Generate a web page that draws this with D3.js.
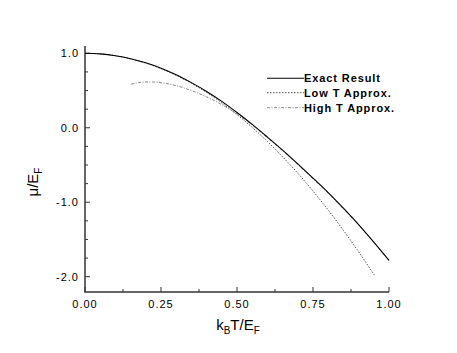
<!DOCTYPE html>
<html>
<head>
<meta charset="utf-8">
<script src="https://cdn.jsdelivr.net/npm/d3@7"></script>
<style>
  body { margin: 0; background: #fff; }
  svg text { font-family: "Liberation Sans", Arial, sans-serif; fill: #000; }
  .tick-label { font-size: 11px; letter-spacing: 1px; }
  .legend text { font-size: 11px; font-weight: bold; letter-spacing: 0.9px; }
  .title { font-size: 15px; }
</style>
</head>
<body>
<svg id="chart" width="457" height="353"></svg>
<script>
// values
var tExact = [0, 0.05, 0.1, 0.15, 0.2, 0.25, 0.3, 0.35, 0.4, 0.45, 0.5,
              0.55, 0.6, 0.65, 0.7, 0.75, 0.8, 0.85, 0.9, 0.95, 1.0];
var muExact = [1.0, 0.992, 0.968, 0.928, 0.872, 0.80, 0.712, 0.606, 0.488, 0.355, 0.205,
               0.045, -0.125, -0.30, -0.485, -0.675, -0.87, -1.08, -1.30, -1.535, -1.78];

var tLow = [0, 0.05, 0.1, 0.15, 0.2, 0.25, 0.3, 0.35, 0.4, 0.45, 0.5,
            0.55, 0.6, 0.65, 0.7, 0.75, 0.8, 0.85, 0.9, 0.952];
var muLow = [1.0, 0.992, 0.967, 0.926, 0.868, 0.794, 0.704, 0.597, 0.474, 0.334, 0.177,
             0.005, -0.184, -0.39, -0.61, -0.85, -1.105, -1.377, -1.665, -1.98];

var tHigh = [0.152, 0.175, 0.2, 0.225, 0.25, 0.3, 0.35, 0.4, 0.45, 0.5,
             0.55, 0.6, 0.65, 0.7, 0.75, 0.8, 0.85, 0.9, 0.95, 1.0];
var muHigh = [0.585, 0.605, 0.615, 0.615, 0.605, 0.565, 0.50, 0.415, 0.31, 0.185,
              0.035, -0.135, -0.31, -0.495, -0.685, -0.88, -1.09, -1.305, -1.54, -1.785];

var xTicks = [0, 0.25, 0.5, 0.75, 1.0];
var xTickLabels = ["0.00", "0.25", "0.50", "0.75", "1.00"];
var yTicks = [1.0, 0.0, -1.0, -2.0];
var yTickLabels = ["1.0", "0.0", "-1.0", "-2.0"];
var seriesNames = ["Exact Result", "Low T Approx.", "High T Approx."];

var svg = d3.select("#chart");

var x = d3.scaleLinear().domain([0, 1]).range([85, 389]);
var y = d3.scaleLinear().domain([-2.0, 1.0]).range([276.7, 53.3]);

var styles = [
  {stroke: "#000", width: 1.1, dash: null},
  {stroke: "#555", width: 1, dash: "1.5,1.5"},
  {stroke: "#888", width: 1, dash: "3,1.5,1,1.5"}
];

// axes, ticks pointing inward
var axisColor = "#333";
svg.append("line")
    .attr("x1", 85).attr("x2", 85)
    .attr("y1", 46).attr("y2", 292)
    .attr("stroke", axisColor).attr("stroke-width", 1.5);
svg.append("line")
    .attr("x1", 84.25).attr("x2", 389)
    .attr("y1", 292).attr("y2", 292)
    .attr("stroke", axisColor).attr("stroke-width", 1.5);

var xMinor = d3.range(0, 1.0001, 0.125);
svg.append("g").selectAll("line")
  .data(xMinor)
  .enter().append("line")
    .attr("x1", x).attr("x2", x)
    .attr("y1", 292)
    .attr("y2", function(d, i) { return i % 2 === 0 ? 287 : 289; })
    .attr("stroke", axisColor).attr("stroke-width", 1);

var yMinor = d3.range(-2.0, 1.0001, 0.25);
svg.append("g").selectAll("line")
  .data(yMinor)
  .enter().append("line")
    .attr("y1", y).attr("y2", y)
    .attr("x1", 85)
    .attr("x2", function(d, i) { return i % 4 === 0 ? 90 : 88; })
    .attr("stroke", axisColor).attr("stroke-width", 1);

svg.append("g").selectAll("text")
  .data(xTicks)
  .enter().append("text")
    .attr("class", "tick-label")
    .attr("x", x)
    .attr("y", 308)
    .attr("text-anchor", "middle")
    .text(function(d, i) { return xTickLabels[i]; });

svg.append("g").selectAll("text")
  .data(yTicks)
  .enter().append("text")
    .attr("class", "tick-label")
    .attr("x", 79)
    .attr("y", function(d) { return y(d) + 4; })
    .attr("text-anchor", "end")
    .text(function(d, i) { return yTickLabels[i]; });

// axis titles
var xt = svg.append("text")
    .attr("class", "title")
    .attr("x", 238).attr("y", 330)
    .attr("text-anchor", "middle");
xt.append("tspan").text("k");
xt.append("tspan").attr("dy", 4).attr("font-size", "10px").text("B");
xt.append("tspan").attr("dy", -4).text("T/E");
xt.append("tspan").attr("dy", 4).attr("font-size", "10px").text("F");

var yt = svg.append("text")
    .attr("class", "title")
    .attr("transform", "translate(38,182) rotate(-90)")
    .attr("text-anchor", "middle");
yt.append("tspan").text("\u03bc/E");
yt.append("tspan").attr("dy", 4).attr("font-size", "10px").text("F");

// curves
var line = d3.line()
    .x(function(d) { return x(d[0]); })
    .y(function(d) { return y(d[1]); })
    .curve(d3.curveMonotoneX);

var series = [
  d3.zip(tLow, muLow),
  d3.zip(tHigh, muHigh),
  d3.zip(tExact, muExact)
];
var order = [1, 2, 0];

series.forEach(function(data, k) {
  var s = styles[order[k]];
  svg.append("path")
      .datum(data)
      .attr("d", line)
      .attr("fill", "none")
      .attr("stroke", s.stroke)
      .attr("stroke-width", s.width)
      .attr("stroke-dasharray", s.dash);
});

// legend
var legend = svg.append("g").attr("class", "legend");
var legendY = [78.3, 92.7, 107.7];
seriesNames.forEach(function(name, i) {
  var s = styles[i];
  legend.append("line")
      .attr("x1", 267).attr("x2", 304)
      .attr("y1", legendY[i]).attr("y2", legendY[i])
      .attr("stroke", s.stroke)
      .attr("stroke-width", s.width)
      .attr("stroke-dasharray", s.dash);
  legend.append("text")
      .attr("x", 304)
      .attr("y", legendY[i] + 4)
      .text(name);
});
</script>
</body>
</html>
